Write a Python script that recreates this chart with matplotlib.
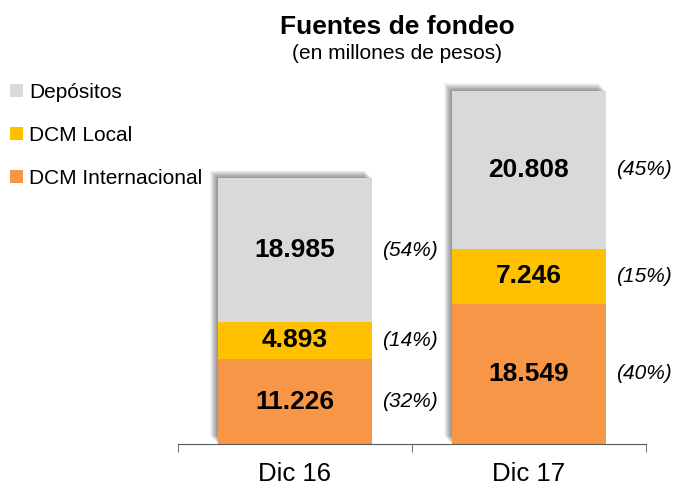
import matplotlib
matplotlib.use("Agg")
import matplotlib.pyplot as plt
import matplotlib.patheffects as pe
from matplotlib.patches import Patch
import numpy as np

plt.rcParams["font.family"] = ["Liberation Sans", "DejaVu Sans"]

categories = ["Dic 16", "Dic 17"]
series_names = ["DCM Internacional", "DCM Local", "Depósitos"]
internacional = [11226, 18549]
local = [4893, 7246]
depositos = [18985, 20808]
value_labels = [["11.226", "18.549"], ["4.893", "7.246"], ["18.985", "20.808"]]
pct_labels = [["(32%)", "(40%)"], ["(14%)", "(15%)"], ["(54%)", "(45%)"]]
colors = ["#F79646", "#FFC000", "#D9D9D9"]

x = np.arange(len(categories))
series = [internacional, local, depositos]
totals = np.sum(series, axis=0)

fig = plt.figure(figsize=(6.78, 4.86), dpi=100)
ax = fig.add_axes([0.2625, 0.0864, 0.6903, 0.790])

# soft shadow behind each stack (up-left)
shadow = [pe.SimplePatchShadow(offset=(-d, d), shadow_rgbFace="black", alpha=0.045)
          for d in np.linspace(5.5, 0.5, 11)]
ax.bar(x, totals, width=0.66, color="white", zorder=1,
       path_effects=shadow + [pe.Normal()])

bottom = np.zeros(len(categories))
for vals, col, vlab, plab in zip(series, colors, value_labels, pct_labels):
    ax.bar(x, vals, bottom=bottom, width=0.66, color=col, zorder=2)
    for i, v in enumerate(vals):
        yc = bottom[i] + v / 2
        ax.text(x[i], yc, vlab[i], ha="center", va="center",
                fontsize=19, fontweight="bold", zorder=3)
        ax.text(x[i] + 0.49, yc, plab[i], ha="center", va="center",
                fontsize=15, style="italic", zorder=3)
    bottom = bottom + np.array(vals)

ax.set_xlim(-0.5, 1.5)
ax.set_ylim(0, 50700)
ax.set_yticks([])
for s in ["top", "right", "left"]:
    ax.spines[s].set_visible(False)
ax.spines["bottom"].set_color("#595959")
ax.set_xticks(x)
ax.set_xticklabels(categories, fontsize=18.5)
ax.tick_params(axis="x", which="major", length=0, pad=13)
ax.set_xticks([-0.5, 0.5, 1.5], minor=True)
ax.tick_params(axis="x", which="minor", length=6, color="#595959")

fig.text(0.586, 0.944, "Fuentes de fondeo", ha="center", va="center",
         fontsize=19, fontweight="bold")
fig.text(0.586, 0.889, "(en millones de pesos)", ha="center", va="center",
         fontsize=15)

handles = [Patch(facecolor=c, edgecolor="none") for c in colors[::-1]]
fig.legend(handles, series_names[::-1], loc="upper left",
           bbox_to_anchor=(0.003, 0.847), frameon=False, fontsize=15,
           handlelength=0.6, handleheight=0.6, handletextpad=0.3,
           labelspacing=1.15, borderaxespad=0)

fig.savefig("out.png", dpi=100)
